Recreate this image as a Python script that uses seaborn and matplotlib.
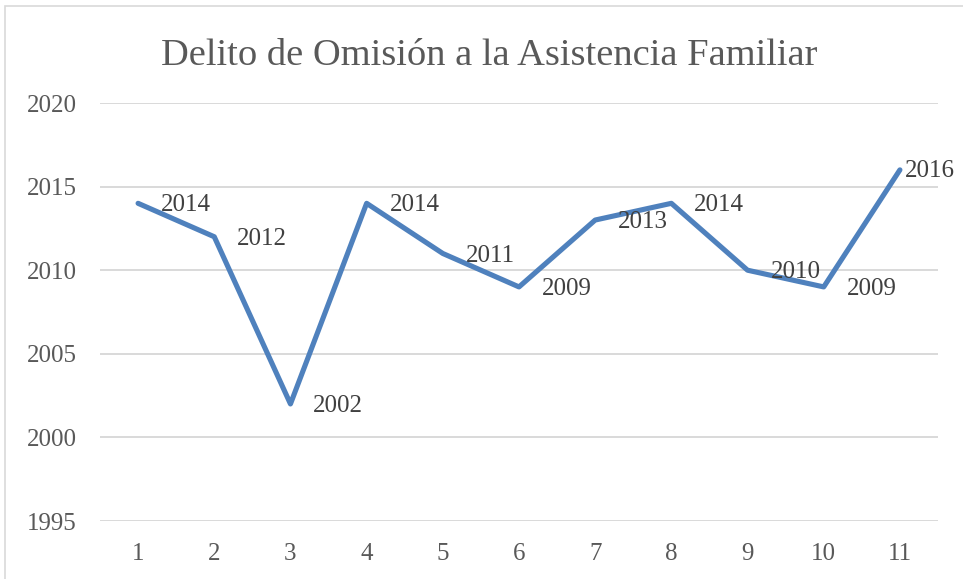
import matplotlib
matplotlib.use("Agg")
import matplotlib.pyplot as plt
from matplotlib.patches import Rectangle
import seaborn as sns
import pandas as pd

categories = [1, 2, 3, 4, 5, 6, 7, 8, 9, 10, 11]
values = [2014, 2012, 2002, 2014, 2011, 2009, 2013, 2014, 2010, 2009, 2016]
y_ticks = [1995, 2000, 2005, 2010, 2015, 2020]
title = "Delito de Omisión a la Asistencia Familiar"

sns.set_theme(style="white")
plt.rcParams['font.family'] = ['Liberation Serif', 'DejaVu Serif']

W, H = 963, 579
fig = plt.figure(figsize=(W / 100, H / 100), dpi=100)
ax = fig.add_axes([100 / W, 1 - 521 / H, (938 - 100) / W, (521 - 103) / H])

df = pd.DataFrame({"x": categories, "y": values})
sns.lineplot(data=df, x="x", y="y", ax=ax, color="#4F81BD", linewidth=3.7,
             solid_joinstyle="round", solid_capstyle="round")

ax.set_xlim(0.5, 11.5)
ax.set_ylim(1995, 2020)
ax.set_yticks(y_ticks)
ax.set_xticks(categories)
ax.set_xticklabels([str(c) for c in categories])
ax.set_xlabel("")
ax.set_ylabel("")
for s in ax.spines.values():
    s.set_visible(False)
ax.grid(axis="y", color="#D9D9D9", linewidth=1.4)
ax.set_axisbelow(True)
ax.tick_params(axis="both", length=0, labelsize=18, colors="#595959")
ax.tick_params(axis="y", pad=16.5)
ax.tick_params(axis="x", pad=16)

for i, (xv, yv) in enumerate(zip(categories, values)):
    off = (16.5, -1.5) if i < len(values) - 1 else (3.5, -0.5)
    ax.annotate(str(yv), (xv, yv), xytext=off, textcoords="offset points",
                ha="left", va="center", fontsize=18, color="#404040")

fig.text(489 / W, 1 - 65 / H, title, ha="center", va="baseline",
         fontsize=27.7, color="#595959")

fig.patches.append(Rectangle((5 / W, -0.1), 1.2, 1 - 6 / H + 0.1,
                             transform=fig.transFigure, fill=False,
                             edgecolor="#D9D9D9", linewidth=1.2))

fig.savefig("out.png", dpi=100)
